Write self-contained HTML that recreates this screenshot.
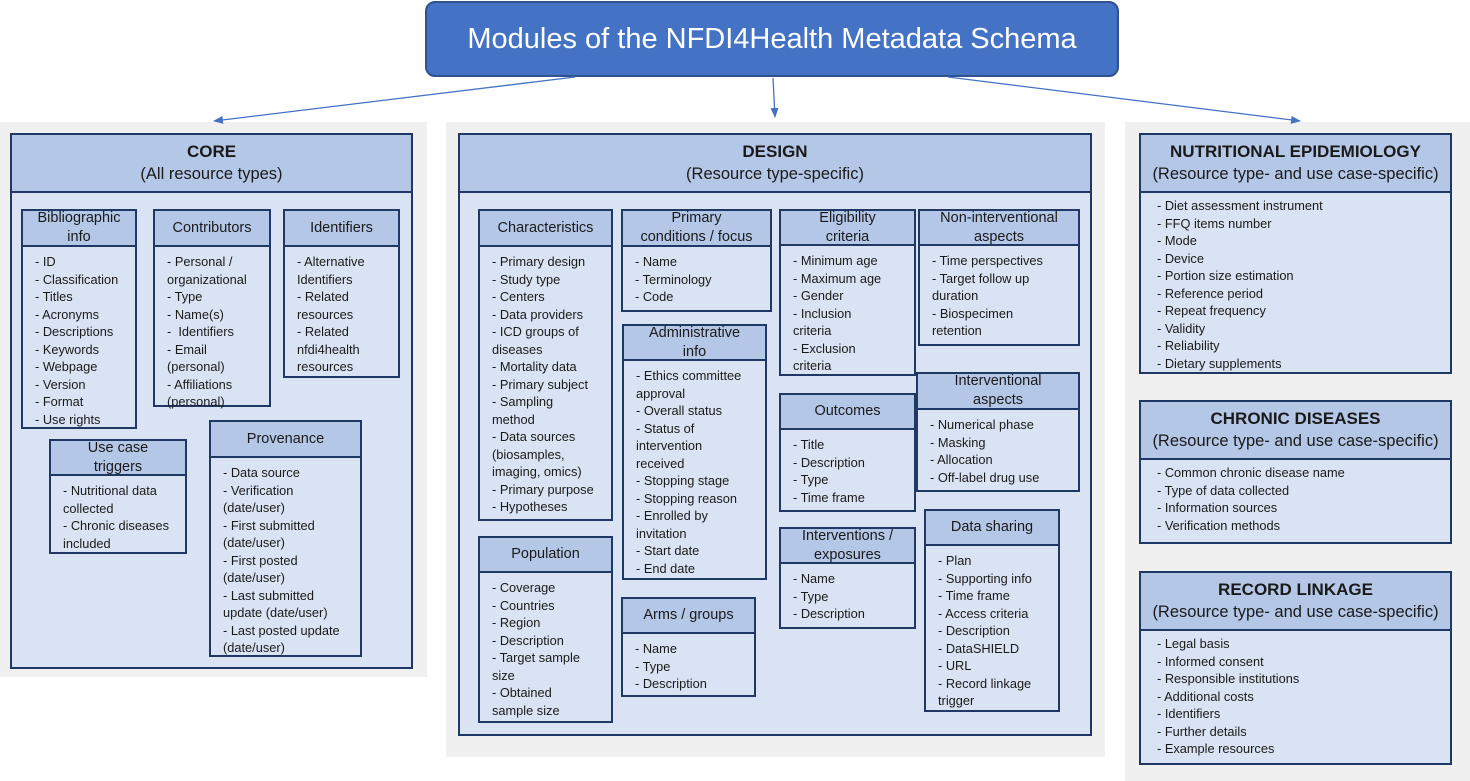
<!DOCTYPE html>
<html><head><meta charset="utf-8"><style>
body{margin:0;width:1470px;height:781px;background:#fff;position:relative;font-family:"Liberation Sans",sans-serif;overflow:hidden}
.g{position:absolute;background:#f0f0f0}
.b{position:absolute;background:#dae3f3;border:2px solid #203864;box-sizing:border-box;color:#1a1a1a}
.h{background:#b4c7e7;border-bottom:2px solid #203864;box-sizing:border-box;text-align:center;display:flex;align-items:center;justify-content:center;font-size:14.5px;line-height:19px;overflow:hidden}
.t{font-size:12.8px;line-height:17.5px;padding:6px 6px 0 12px;white-space:nowrap}
.big .h{font-size:16.5px;line-height:23px;flex-direction:column}
.big .h b{font-size:17px}
.big .t{padding-left:16px;padding-top:4px;font-size:12.8px}
</style></head><body>
<div class="g" style="left:0;top:122px;width:427px;height:555px"></div>
<div class="g" style="left:446px;top:122px;width:659px;height:635px"></div>
<div class="g" style="left:1125px;top:122px;width:345px;height:659px"></div>

<div style="position:absolute;left:425px;top:1px;width:694px;height:76px;box-sizing:border-box;background:#4472c4;border:2px solid #2f528f;border-radius:10px;color:#fff;font-size:29px;display:flex;align-items:center;justify-content:center">Modules of the NFDI4Health Metadata Schema</div>
<svg style="position:absolute;left:0;top:0" width="1470" height="781">
<defs><marker id="a" markerWidth="10" markerHeight="8" refX="9" refY="4" orient="auto" markerUnits="userSpaceOnUse"><path d="M0,0L10,4L0,8z" fill="#4472c4"/></marker></defs>
<g stroke="#4472c4" stroke-width="1.3" marker-end="url(#a)">
<line x1="575" y1="77" x2="214" y2="121"/><line x1="773" y1="78" x2="775" y2="117"/><line x1="948" y1="77" x2="1300" y2="121"/></g></svg>

<div class="b big" style="left:10px;top:133px;width:403px;height:536px"><div class="h" style="height:58px"><b>CORE</b>(All resource types)</div></div>
<div class="b big" style="left:458px;top:133px;width:634px;height:603px"><div class="h" style="height:58px"><b>DESIGN</b>(Resource type-specific)</div></div>
<div class="b big" style="left:1139px;top:133px;width:313px;height:241px"><div class="h" style="height:58px"><b>NUTRITIONAL EPIDEMIOLOGY</b>(Resource type- and use case-specific)</div><div class="t">- Diet assessment instrument<br>- FFQ items number<br>- Mode<br>- Device<br>- Portion size estimation<br>- Reference period<br>- Repeat frequency<br>- Validity<br>- Reliability<br>- Dietary supplements</div></div>
<div class="b big" style="left:1139px;top:400px;width:313px;height:144px"><div class="h" style="height:58px"><b>CHRONIC DISEASES</b>(Resource type- and use case-specific)</div><div class="t">- Common chronic disease name<br>- Type of data collected<br>- Information sources<br>- Verification methods</div></div>
<div class="b big" style="left:1139px;top:571px;width:313px;height:194px"><div class="h" style="height:58px"><b>RECORD LINKAGE</b>(Resource type- and use case-specific)</div><div class="t">- Legal basis<br>- Informed consent<br>- Responsible institutions<br>- Additional costs<br>- Identifiers<br>- Further details<br>- Example resources</div></div>

<div class="b" style="left:21px;top:209px;width:116px;height:220px"><div class="h" style="height:36px">Bibliographic<br>info</div><div class="t">- ID<br>- Classification<br>- Titles<br>- Acronyms<br>- Descriptions<br>- Keywords<br>- Webpage<br>- Version<br>- Format<br>- Use rights</div></div>
<div class="b" style="left:153px;top:209px;width:118px;height:198px"><div class="h" style="height:36px">Contributors</div><div class="t">- Personal /<br>organizational<br>- Type<br>- Name(s)<br>-&nbsp; Identifiers<br>- Email<br>(personal)<br>- Affiliations<br>(personal)</div></div>
<div class="b" style="left:283px;top:209px;width:117px;height:169px"><div class="h" style="height:36px">Identifiers</div><div class="t">- Alternative<br>Identifiers<br>- Related<br>resources<br>- Related<br>nfdi4health<br>resources</div></div>
<div class="b" style="left:49px;top:439px;width:138px;height:115px"><div class="h" style="height:35px">Use case<br>triggers</div><div class="t">- Nutritional data<br>collected<br>- Chronic diseases<br>included</div></div>
<div class="b" style="left:209px;top:420px;width:153px;height:237px"><div class="h" style="height:36px">Provenance</div><div class="t">- Data source<br>- Verification<br>(date/user)<br>- First submitted<br>(date/user)<br>- First posted<br>(date/user)<br>- Last submitted<br>update (date/user)<br>- Last posted update<br>(date/user)</div></div>

<div class="b" style="left:478px;top:209px;width:135px;height:312px"><div class="h" style="height:36px">Characteristics</div><div class="t">- Primary design<br>- Study type<br>- Centers<br>- Data providers<br>- ICD groups of<br>diseases<br>- Mortality data<br>- Primary subject<br>- Sampling<br>method<br>- Data sources<br>(biosamples,<br>imaging, omics)<br>- Primary purpose<br>- Hypotheses</div></div>
<div class="b" style="left:621px;top:209px;width:151px;height:103px"><div class="h" style="height:36px">Primary<br>conditions / focus</div><div class="t">- Name<br>- Terminology<br>- Code</div></div>
<div class="b" style="left:622px;top:324px;width:145px;height:256px"><div class="h" style="height:35px">Administrative<br>info</div><div class="t">- Ethics committee<br>approval<br>- Overall status<br>- Status of<br>intervention<br>received<br>- Stopping stage<br>- Stopping reason<br>- Enrolled by<br>invitation<br>- Start date<br>- End date</div></div>
<div class="b" style="left:779px;top:209px;width:137px;height:167px"><div class="h" style="height:35px">Eligibility<br>criteria</div><div class="t">- Minimum age<br>- Maximum age<br>- Gender<br>- Inclusion<br>criteria<br>- Exclusion<br>criteria</div></div>
<div class="b" style="left:918px;top:209px;width:162px;height:137px"><div class="h" style="height:35px">Non-interventional<br>aspects</div><div class="t">- Time perspectives<br>- Target follow up<br>duration<br>- Biospecimen<br>retention</div></div>
<div class="b" style="left:916px;top:372px;width:164px;height:120px"><div class="h" style="height:36px">Interventional<br>aspects</div><div class="t">- Numerical phase<br>- Masking<br>- Allocation<br>- Off-label drug use</div></div>
<div class="b" style="left:779px;top:393px;width:137px;height:119px"><div class="h" style="height:35px">Outcomes</div><div class="t">- Title<br>- Description<br>- Type<br>- Time frame</div></div>
<div class="b" style="left:478px;top:536px;width:135px;height:187px"><div class="h" style="height:35px">Population</div><div class="t">- Coverage<br>- Countries<br>- Region<br>- Description<br>- Target sample<br>size<br>- Obtained<br>sample size</div></div>
<div class="b" style="left:621px;top:597px;width:135px;height:100px"><div class="h" style="height:35px">Arms / groups</div><div class="t">- Name<br>- Type<br>- Description</div></div>
<div class="b" style="left:779px;top:527px;width:137px;height:102px"><div class="h" style="height:35px">Interventions /<br>exposures</div><div class="t">- Name<br>- Type<br>- Description</div></div>
<div class="b" style="left:924px;top:509px;width:136px;height:203px"><div class="h" style="height:35px">Data sharing</div><div class="t">- Plan<br>- Supporting info<br>- Time frame<br>- Access criteria<br>- Description<br>- DataSHIELD<br>- URL<br>- Record linkage<br>trigger</div></div>
</body></html>
